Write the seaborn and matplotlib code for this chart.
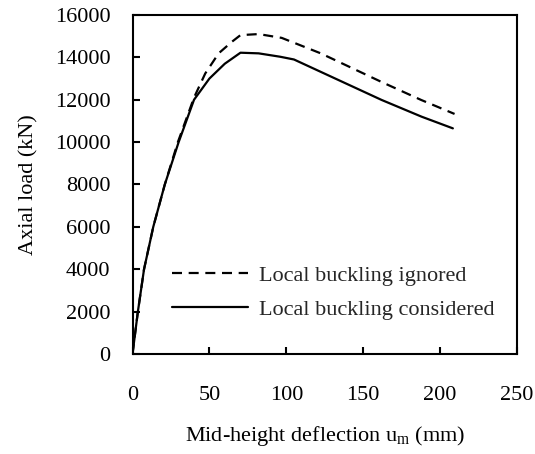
import matplotlib
matplotlib.use("Agg")
import matplotlib.pyplot as plt
import seaborn as sns
import pandas as pd

# Data
x_ignored = [0, 3.5, 7.5, 13.5, 21, 29.5, 40, 47.3, 56, 64.7, 70.2, 82, 97, 122.4, 161.6, 187.7, 209.4]
y_ignored = [0, 2000, 4000, 6000, 8000, 10000, 12100, 13240, 14190, 14740, 15050, 15100, 14920, 14190, 12850, 11990, 11330]

x_considered = [0, 3.5, 7.5, 13.5, 21, 30, 40, 50, 60, 70.2, 82, 96, 105, 122, 162, 188, 208.3]
y_considered = [0, 2000, 4000, 6000, 8000, 10000, 12000, 13000, 13700, 14220, 14190, 14030, 13900, 13330, 11990, 11200, 10650]

labels = ["Local buckling ignored", "Local buckling considered"]
x_ticks = [0, 50, 100, 150, 200, 250]
y_ticks = [0, 2000, 4000, 6000, 8000, 10000, 12000, 14000, 16000]

sns.set_theme(style="ticks")
plt.rcParams['font.family'] = ['Liberation Serif', 'DejaVu Serif']
plt.rcParams['mathtext.fontset'] = 'custom'
plt.rcParams['mathtext.rm'] = 'Liberation Serif'

fig = plt.figure(figsize=(5.35, 4.54), dpi=100)
ax = fig.add_axes([132.5 / 535, 1 - 354 / 454, (517 - 132.5) / 535, (354 - 15) / 454])

df1 = pd.DataFrame({"x": x_ignored, "y": y_ignored})
df2 = pd.DataFrame({"x": x_considered, "y": y_considered})

sns.lineplot(data=df1, x="x", y="y", ax=ax, sort=False, color="black", lw=1.6,
             label=labels[0], estimator=None)
ax.lines[-1].set_dashes((4.5, 3))
sns.lineplot(data=df2, x="x", y="y", ax=ax, sort=False, color="black", lw=1.6,
             label=labels[1], estimator=None)

ax.set_xlim(0, 250)
ax.set_ylim(0, 16000)
ax.set_xticks(x_ticks)
ax.set_yticks(y_ticks)

fs = 16
ax.tick_params(direction="in", length=5, width=1.5, labelsize=fs, colors="black")
ax.tick_params(axis="x", pad=23)
ax.tick_params(axis="y", pad=16)
for s in ax.spines.values():
    s.set_linewidth(1.5)
    s.set_color("black")

ax.set_xlabel(r"Mid-height deflection u$_{\mathrm{m}}$ (mm)", fontsize=fs, labelpad=14, color="black")
ax.set_ylabel("Axial load (kN)", fontsize=fs, labelpad=12, color="black")

leg = ax.legend(loc="upper left", bbox_to_anchor=(0.103, 0.262), frameon=False,
                fontsize=fs, handlelength=3.4, handletextpad=0.5, labelspacing=0.6,
                borderpad=0, borderaxespad=0)
for h in leg.get_lines():
    h.set_linewidth(1.6)
leg.get_lines()[0].set_dashes((4.5, 3))

fig.savefig("out.png", dpi=100)
